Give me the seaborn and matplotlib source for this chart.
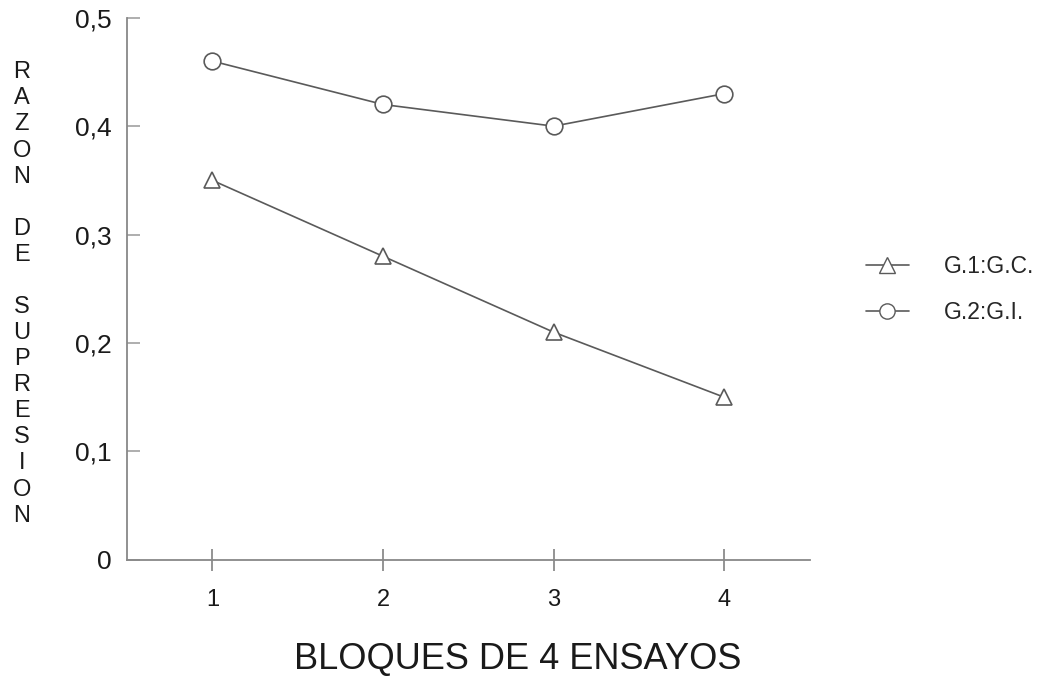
import seaborn as sns
import matplotlib.pyplot as plt
import pandas as pd

# Data
bloques = [1, 2, 3, 4]
g1_gc = [0.35, 0.28, 0.21, 0.15]
g2_gi = [0.46, 0.42, 0.40, 0.43]
y_ticks = [0, 0.1, 0.2, 0.3, 0.4, 0.5]
y_tick_labels = ['0', '0,1', '0,2', '0,3', '0,4', '0,5']

df = pd.DataFrame({
    'Bloque': bloques * 2,
    'Razon': g1_gc + g2_gi,
    'Grupo': ['G.1:G.C.'] * 4 + ['G.2:G.I.'] * 4,
})

sns.set_theme(style="white")
plt.rcParams['font.family'] = ['Liberation Sans', 'DejaVu Sans']

fig = plt.figure(figsize=(10.42, 6.82), dpi=100)
ax = fig.add_axes([0.122, 0.179, 0.655, 0.795])

line_col = '#5a5a5a'
sns.lineplot(data=df, x='Bloque', y='Razon', style='Grupo',
             markers={'G.1:G.C.': '^', 'G.2:G.I.': 'o'},
             dashes=False, color=line_col, linewidth=1.2,
             markersize=12, markerfacecolor='white',
             markeredgecolor=line_col, markeredgewidth=1.2,
             ax=ax, legend=False)

ax.set_xlim(0.5, 4.5)
ax.set_ylim(0, 0.5)
ax.set_xticks(bloques)
ax.set_xticklabels([str(b) for b in bloques], fontsize=17)
ax.set_yticks(y_ticks)
ax.set_yticklabels(y_tick_labels, fontsize=19)
ax.tick_params(axis='x', direction='inout', length=16, width=1.1,
               color='#777777', pad=13, labelcolor='#1a1a1a')
ax.tick_params(axis='y', direction='in', length=9, width=1.1,
               color='#999999', pad=11, labelcolor='#1a1a1a')
ax.tick_params(left=True, bottom=True)

sns.despine(ax=ax)
for side in ['left', 'bottom']:
    ax.spines[side].set_color('#888888')
    ax.spines[side].set_linewidth(1.3)

ax.set_xlabel('')
ax.set_ylabel('')
fig.text(0.497, 0.033, 'BLOQUES DE 4 ENSAYOS', ha='center', va='center',
         fontsize=26, color='#1a1a1a')
fig.text(0.021, 0.569, '\n'.join('RAZON DE SUPRESION'), ha='center',
         va='center', fontsize=17, color='#1a1a1a', linespacing=1.24)

handles = [
    plt.Line2D([], [], color=line_col, linewidth=1.2, marker='^',
               markersize=11, markerfacecolor='white',
               markeredgecolor=line_col),
    plt.Line2D([], [], color=line_col, linewidth=1.2, marker='o',
               markersize=11, markerfacecolor='white',
               markeredgecolor=line_col),
]
fig.legend(handles, ['G.1:G.C.', 'G.2:G.I.'], loc='center left',
           bbox_to_anchor=(0.811, 0.575), frameon=False, fontsize=16.5,
           handlelength=1.9, handletextpad=1.5, labelspacing=1.0)

fig.savefig('out.png', dpi=100)
